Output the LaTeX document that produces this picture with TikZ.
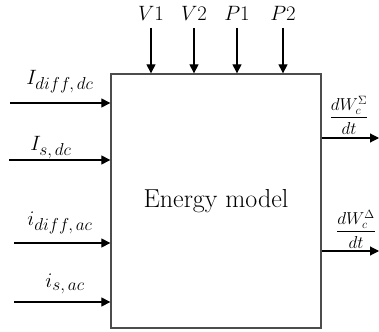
\documentclass[tikz,border=0pt]{standalone}
\usepackage{amsmath}
\usetikzlibrary{arrows.meta}
\newcommand\sbx[1]{\mbox{\fontsize{17}{19}\selectfont$#1$}}
\newcommand\sbf[1]{\mbox{\fontsize{12}{14}\selectfont$#1$}}
\begin{document}
\begin{tikzpicture}[x=1pt,y=-1pt,
  arr/.style={line width=1.1pt,-{Triangle[length=9pt,width=9pt]}},
  toplbl/.style={inner sep=0pt,font=\fontsize{20}{24}\selectfont},
  lbl/.style={inner sep=0pt,font=\fontsize{22}{24}\selectfont},
  frac/.style={inner sep=0pt,font=\fontsize{18}{20}\selectfont}]
\useasboundingbox (0,0) rectangle (379,331);
\node[draw=black!70,line width=1.3pt,minimum width=210pt,minimum height=254pt,
  inner sep=0pt,font=\fontsize{26}{28}\selectfont] (box) at (216,201) {Energy model};
% top inputs
\foreach \n/\x/\t in {v1/151/V1, v2/194/V2, p1/237/P1, p2/283/P2}{
  \coordinate (\n) at (\x,28);
  \draw[arr] (\n) -- (\n |- box.north);
  \node[toplbl] (\n l) at (\x,13) {$\t$};
}
% left inputs
\coordinate (a1) at (10,103);
\coordinate (a2) at (9,160);
\coordinate (a3) at (14,243);
\coordinate (a4) at (14,302);
\foreach \n in {a1,a2,a3,a4}{ \draw[arr] (\n) -- (\n -| box.west); }
\node[lbl] (l1) at (60,82) {$I_{\sbx{diff,dc}}$};
\node[lbl] (l2) at (51,148) {$I_{\sbx{s,dc}}$};
\node[lbl] (l3) at (60,223) {$i_{\sbx{diff,ac}}$};
\node[lbl] (l4) at (65,284) {$i_{\sbx{s,ac}}$};
% right outputs
\coordinate (o1) at (379,138);
\coordinate (o2) at (379,251);
\draw[arr] (o1 -| box.east) -- (o1);
\draw[arr] (o2 -| box.east) -- (o2);
\node[frac] (f1) at (349,115) {$\dfrac{dW_{\sbf{c}}^{\sbf{\Sigma}}}{dt}$};
\node[frac] (f2) at (356,229) {$\dfrac{dW_{\sbf{c}}^{\sbf{\Delta}}}{dt}$};
\end{tikzpicture}
\end{document}
